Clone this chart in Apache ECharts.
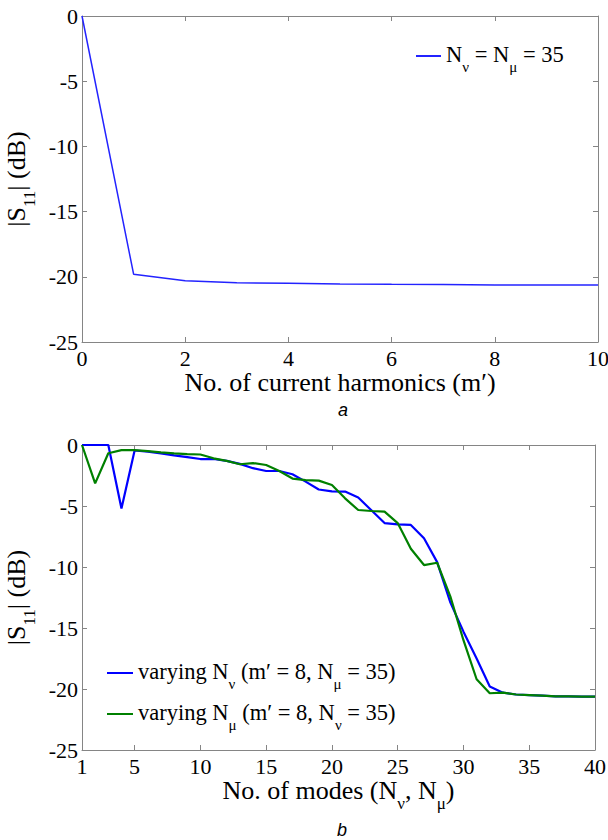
<!DOCTYPE html>
<html>
<head>
<meta charset="utf-8">
<script src="https://cdn.jsdelivr.net/npm/echarts@6/dist/echarts.min.js"></script>
<style>html,body{margin:0;padding:0;background:#fff}#c{width:608px;height:840px}</style>
</head>
<body>
<div id="c"></div>
<script>
// ---- data (a): |S11| vs number of current harmonics m'
const harmonics = [0, 1, 2, 3, 4, 5, 6, 7, 8, 9, 10];
const s11Harm = [0, -19.8, -20.3, -20.45, -20.5, -20.55, -20.58, -20.6, -20.62, -20.62, -20.62];

// ---- data (b): |S11| vs number of modes
const modes = [1,2,3,4,5,6,7,8,9,10,11,12,13,14,15,16,17,18,19,20,21,22,23,24,25,26,27,28,29,30,31,32,33,34,35,36,37,38,39,40];
const s11VaryNu = [0, 0, 0, -5.2, -0.45, -0.55, -0.68, -0.85, -1.0, -1.15,
  -1.15, -1.3, -1.55, -1.9, -2.13, -2.13, -2.4, -3.0, -3.65, -3.8,
  -3.82, -4.3, -5.35, -6.4, -6.5, -6.55, -7.65, -9.6, -12.9, -15.3,
  -17.5, -19.8, -20.3, -20.45, -20.5, -20.55, -20.6, -20.6, -20.62, -20.62];
const s11VaryMu = [0, -3.15, -0.68, -0.42, -0.42, -0.5, -0.6, -0.68, -0.75, -0.78,
  -1.09, -1.3, -1.58, -1.48, -1.64, -2.13, -2.75, -2.88, -2.92, -3.28,
  -4.37, -5.33, -5.41, -5.46, -6.4, -8.5, -9.84, -9.65, -12.4, -16.0,
  -19.2, -20.35, -20.3, -20.45, -20.5, -20.55, -20.6, -20.6, -20.62, -20.62];

// tick labels
const topXTicks = [0, 2, 4, 6, 8, 10];
const yTicks = [0, -5, -10, -15, -20, -25];
const botXLabels = [1, 5, 10, 15, 20, 25, 30, 35, 40];
const botXInnerTicks = [5, 10, 15, 20, 25, 30, 35];

const serif = 'Liberation Serif';
const rich = {
  n: {fontFamily: serif, fontSize: 22.5, color: '#000', lineHeight: 26, verticalAlign: 'top'},
  s: {fontFamily: serif, fontSize: 15, color: '#000', lineHeight: 12, verticalAlign: 'top', padding: [16, 0, 0, 0]},
  N: {fontFamily: serif, fontSize: 26, color: '#000', lineHeight: 30, verticalAlign: 'top'},
  S: {fontFamily: serif, fontSize: 17, color: '#000', lineHeight: 13, verticalAlign: 'top', padding: [17, 0, 0, 0]}
};
const axisGray = '#858585';
const lbl = {fontFamily: serif, fontSize: 22, color: '#000'};

function boxAxes(grid, min, max, isX, extra) {
  // main axis + mirrored axis (MATLAB box with ticks on all sides)
  return [
    Object.assign({
      type: 'value', gridIndex: grid, min: min, max: max,
      position: isX ? 'bottom' : 'left',
      axisLine: {show: true, onZero: false, lineStyle: {color: axisGray, width: 1}},
      axisTick: {show: true, inside: true, length: 5, lineStyle: {color: axisGray}},
      splitLine: {show: false},
      axisLabel: Object.assign({margin: 4}, lbl)
    }, extra.main || {}),
    Object.assign({
      type: 'value', gridIndex: grid, min: min, max: max,
      position: isX ? 'top' : 'right',
      axisLine: {show: true, onZero: false, lineStyle: {color: axisGray, width: 1}},
      axisTick: {show: true, inside: true, length: 5, lineStyle: {color: axisGray}},
      splitLine: {show: false},
      axisLabel: {show: false}
    }, extra.mirror || {})
  ];
}

const xAxes = [].concat(
  boxAxes(0, 0, 10, true, {
    main: {interval: 2, name: 'No. of current harmonics (m′)', nameLocation: 'middle', nameGap: 25,
           nameTextStyle: {fontFamily: serif, fontSize: 26, color: '#000'},
           axisLabel: Object.assign({margin: 5, formatter: v => String(v)}, lbl)},
    mirror: {interval: 2}
  }),
  boxAxes(1, 1, 40, true, {
    main: {name: '{N|No. of modes (N}{S|ν}{N|, N}{S|μ}{N|)}', nameLocation: 'middle', nameGap: 24,
           nameTextStyle: {rich: rich},
           axisTick: {show: true, inside: true, length: 5, lineStyle: {color: axisGray}, customValues: botXInnerTicks},
           axisLabel: Object.assign({margin: 5, customValues: botXLabels}, lbl)},
    mirror: {axisTick: {show: true, inside: true, length: 5, lineStyle: {color: axisGray}, customValues: botXInnerTicks}}
  })
);
const yAxes = [].concat(
  boxAxes(0, -25, 0, false, {
    main: {interval: 5, name: '{N||S}{S|11}{N|| (dB)}', nameLocation: 'middle', nameGap: 40, nameRotate: 90,
           nameTextStyle: {rich: rich}},
    mirror: {interval: 5}
  }),
  boxAxes(1, -25, 0, false, {
    main: {interval: 5, name: '{N||S}{S|11}{N|| (dB)}', nameLocation: 'middle', nameGap: 40, nameRotate: 90,
           nameTextStyle: {rich: rich}},
    mirror: {interval: 5}
  })
);

const legendNames = {
  top: '{n|N}{s|ν}{n| = N}{s|μ}{n| = 35}',
  nu: '{n|varying N}{s|ν}{n| (m′ = 8, N}{s|μ}{n| = 35)}',
  mu: '{n|varying N}{s|μ}{n| (m′ = 8, N}{s|ν}{n| = 35)}'
};

const option = {
  animation: false,
  backgroundColor: '#fff',
  grid: [
    {left: 82, right: 10, top: 16, height: 326, outerBoundsMode: 'none', containLabel: false},
    {left: 82, right: 13, top: 445, height: 305, outerBoundsMode: 'none', containLabel: false}
  ],
  xAxis: xAxes,
  yAxis: yAxes,
  legend: [
    {data: ['top'], left: 411, top: 38, icon: 'rect', itemWidth: 25, itemHeight: 2, itemGap: 8,
     formatter: n => legendNames[n], textStyle: {rich: rich}, selectedMode: false},
    {data: ['nu', 'mu'], orient: 'vertical', left: 102, top: 655, icon: 'rect', itemWidth: 26, itemHeight: 2, itemGap: 10,
     formatter: n => legendNames[n], textStyle: {rich: rich}, selectedMode: false}
  ],
  title: [
    {text: 'a', left: 333, top: 396, textStyle: {fontFamily: 'Liberation Sans', fontStyle: 'italic', fontWeight: 'normal', fontSize: 18, color: '#000'}},
    {text: 'b', left: 332, top: 816, textStyle: {fontFamily: 'Liberation Sans', fontStyle: 'italic', fontWeight: 'normal', fontSize: 18, color: '#000'}}
  ],
  series: [
    {name: 'top', type: 'line', xAxisIndex: 0, yAxisIndex: 0, showSymbol: false, symbol: 'none',
     lineStyle: {color: '#2323ff', width: 1.5}, itemStyle: {color: '#2323ff'},
     data: harmonics.map((x, i) => [x, s11Harm[i]])},
    {name: 'nu', type: 'line', xAxisIndex: 2, yAxisIndex: 2, showSymbol: false, symbol: 'none',
     lineStyle: {color: '#0000ff', width: 2.2}, itemStyle: {color: '#0000ff'},
     data: modes.map((x, i) => [x, s11VaryNu[i]])},
    {name: 'mu', type: 'line', xAxisIndex: 2, yAxisIndex: 2, showSymbol: false, symbol: 'none',
     lineStyle: {color: '#008000', width: 2.2}, itemStyle: {color: '#008000'},
     data: modes.map((x, i) => [x, s11VaryMu[i]])}
  ]
};

const chart = echarts.init(document.getElementById('c'), null, {renderer: 'svg'});
chart.setOption(option);
</script>
</body>
</html>
